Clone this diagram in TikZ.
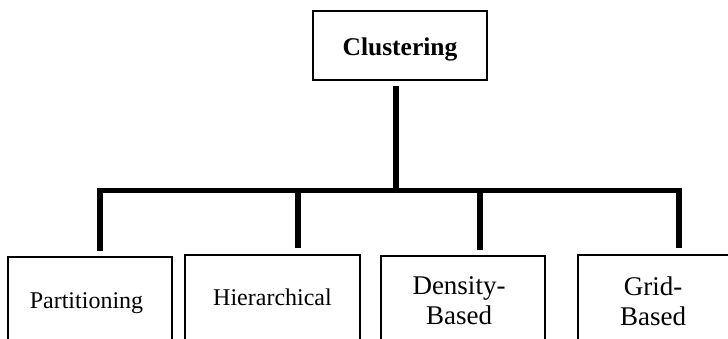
\documentclass[tikz,border=0pt]{standalone}
\usepackage{fontspec}
\setmainfont{Liberation Serif}
\begin{document}
\begin{tikzpicture}[x=1pt,y=-1pt,
  box/.style={draw=black,line width=2.4pt,rectangle,inner sep=0pt,outer sep=0pt,anchor=north west},
  lbl/.style={inner sep=0pt,font=\fontsize{24}{28}\selectfont},
  lbltwo/.style={inner sep=0pt,align=center,font=\fontsize{27}{30}\selectfont},
  conn/.style={line width=6pt,black}]
\useasboundingbox (0,0) rectangle (728,339);
\clip (0,0) rectangle (728,339);
% top box
\node[box,minimum width=174pt,minimum height=69pt] (top) at (313,11) {};
\node[inner sep=0pt,anchor=base,font=\fontsize{25.5}{30}\bfseries\selectfont] (toplbl) at (400,56) {Clustering};
% bottom boxes
\node[box,minimum width=164pt,minimum height=140pt] (p) at (8,257) {};
\node[box,minimum width=175pt,minimum height=140pt] (h) at (185,255) {};
\node[box,minimum width=164pt,minimum height=140pt] (d) at (381,256) {};
\node[box,minimum width=200pt,minimum height=140pt] (g) at (578,255) {};
\node[lbl,anchor=base] (plbl) at (86.5,308) {Partitioning};
\node[lbl,anchor=base] (hlbl) at (272.5,305) {Hierarchical};
\node[lbltwo] (dlbl) at (459,301) {Density-\\Based};
\node[lbltwo] (glbl) at (653,301) {Grid-\\Based};
% connectors
\coordinate (bar) at (396,190.5);
\coordinate (pc) at (100,251);
\coordinate (hc) at (298,248);
\coordinate (dc) at (480,250);
\coordinate (gc) at (679,248);
\draw[conn] ([yshift=-6pt]top.south -| bar) -- (bar);
\draw[line width=5pt] ([xshift=-3pt]pc |- bar) -- ([xshift=3pt]gc |- bar);
\draw[conn] (pc |- bar) -- (pc);
\draw[conn] (hc |- bar) -- (hc);
\draw[conn] (dc |- bar) -- (dc);
\draw[conn] (gc |- bar) -- (gc);
\end{tikzpicture}
\end{document}
